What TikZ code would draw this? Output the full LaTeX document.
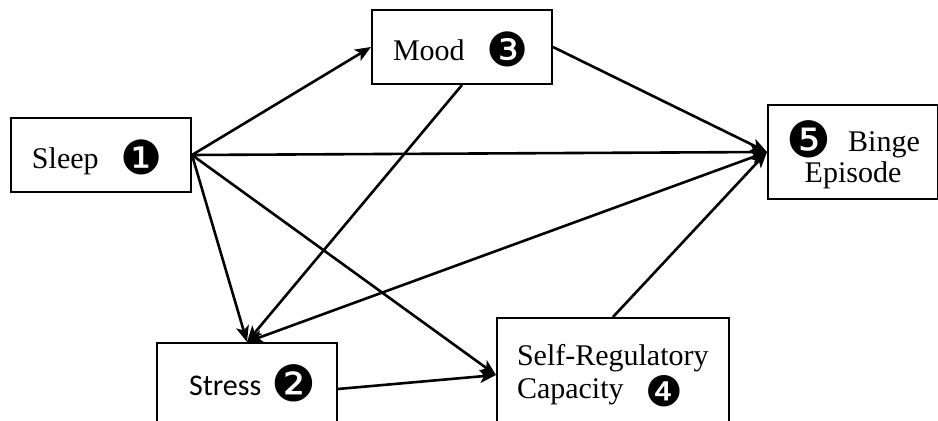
\documentclass[tikz,border=0pt]{standalone}
\usepackage{fontspec}
\setmainfont{Liberation Serif}
\newfontfamily\calibrifont{Carlito}
\newfontfamily\dingfont{DejaVu Sans}
\usetikzlibrary{arrows.meta}
% circled number: size, raise, glyph
\newcommand{\numdot}[3]{\makebox[0pt][l]{\raisebox{#2}{\smash{\dingfont\fontsize{#1}{#1}\selectfont #3}}}}

\begin{document}
\begin{tikzpicture}[x=0.5pt,y=-0.5pt]
\tikzstyle {box}=[rectangle, draw=black, line width=1pt, inner ysep=0pt, font=\fontsize{15}{17}\selectfont]
\tikzstyle {boxl}=[box, inner xsep=10.5pt, align=left]
\tikzstyle {boxc}=[box, inner xsep=0pt, align=center]
\tikzstyle {link}=[-{Stealth[length=8pt,width=6.5pt,inset=2pt]}, line width=1.3pt]
\useasboundingbox (0,0) rectangle (938,421);
\clip (0,0) rectangle (938,421);
\node (sleep) [boxl, text width=69pt, text height=14pt, text depth=0pt, minimum height=37pt] at (101,155) {Sleep\hspace{11pt}\numdot{23.5}{-2.8pt}{❶}};
\node (mood) [boxl, text width=69pt, text height=14pt, text depth=0pt, minimum height=37pt] at (462,47) {Mood\hspace{11pt}\numdot{23.5}{-2.8pt}{❸}};
\node (binge) [boxc, text width=85pt, text height=15pt, text depth=15.5pt, minimum height=47pt, font=\fontsize{15}{15.5}\selectfont] at (853,152) {\numdot{25}{-3pt}{❺}\hspace{31pt}Binge\\Episode};
\node (stress) [boxl, inner xsep=16pt, text width=58pt, minimum height=46pt, font=\fontsize{15}{17}\calibrifont] at (247,389) {Stress\hspace{5pt}\numdot{25}{-2.8pt}{❷}};
\node (src) [boxl, inner xsep=10pt, text width=96pt, minimum height=57pt, font=\fontsize{15}{16.5}\selectfont] at (613,375) {Self-Regulatory\\Capacity\hspace{11pt}\numdot{21}{-4pt}{❹}};
% connectors
\draw [link] (sleep.east) -- (mood.west);
\draw [link] (sleep.east) -- (binge.west);
\draw [link] (sleep.east) -- (stress.north);
\draw [link] (sleep.east) -- (src.west);
\draw [link] (mood.east) -- (binge.west);
\draw [link] (mood.south) -- (stress.north);
\draw [link, {Stealth[length=8pt,width=6.5pt,inset=2pt]}-{Stealth[length=8pt,width=6.5pt,inset=2pt]}] (stress.north) -- (binge.west);
\draw [link] (stress.east) -- (src.west);
\draw [link] (src.north) -- (binge.west);
\end{tikzpicture}
\end{document}
